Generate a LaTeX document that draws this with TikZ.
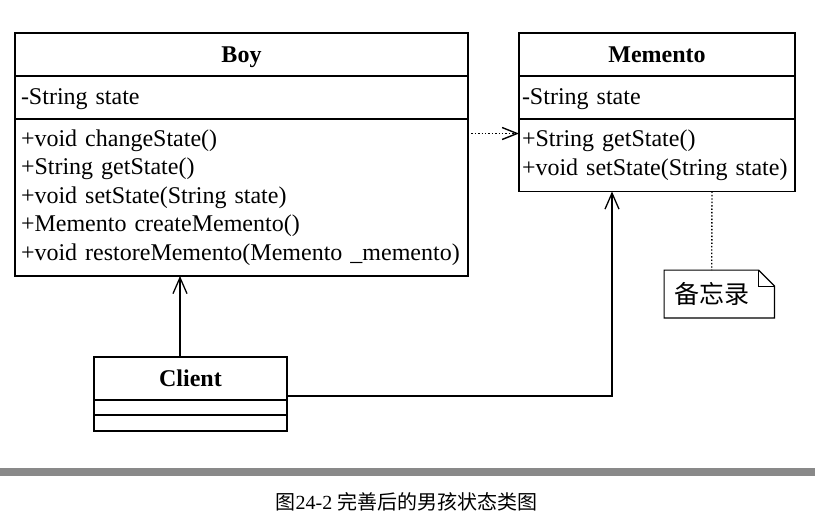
\documentclass[tikz,border=0pt]{standalone}
\usepackage{fontspec}
\setmainfont{Liberation Serif}
\newfontfamily\cjk{Noto Sans CJK SC}
\usetikzlibrary{positioning}
\usetikzlibrary{arrows.meta}
\definecolor{barGray}{HTML}{898989}

\begin{document}
\begin{tikzpicture}[x=1pt,y=-1pt,
    umlpart/.style = {draw, line width=1.8pt, outer sep=0pt, inner xsep=6pt, inner ysep=0pt,
                      font=\fontsize{24}{28.5}\selectfont},
    umlhead/.style = {umlpart, font=\fontsize{24}{28.5}\selectfont\bfseries, align=center,
                      text height=16pt, text depth=0pt},
    umlbody/.style = {umlpart, align=left},
    umlattr/.style = {umlbody, text height=16pt, text depth=2pt},
    notebox/.style = {minimum width=110pt, minimum height=47.4pt, text width=90pt,
                      inner xsep=10pt, align=left, font=\fontsize{25}{25}\selectfont\cjk},
    assoc/.style   = {line width=1.3pt, -{Straight Barb[length=16pt,width=14pt]}},
    depend/.style  = {line width=1.4pt, dotted, -{Straight Barb[length=15pt,width=12pt]}}]

      \useasboundingbox (0,0) rectangle (815,525);

      % Boy
      \node[umlhead, minimum width=453pt, minimum height=43pt, anchor=north west] (boyname) at (15,33) {Boy};
      \node[umlattr, text width=441pt, minimum height=43pt, below=0pt of boyname] (boyattr) {-String state};
      \node[umlbody, text width=441pt, minimum height=157pt, below=0pt of boyattr] (boymeth) {
        +void changeState()\\
        +String getState()\\
        +void setState(String state)\\
        +Memento createMemento()\\
        +void restoreMemento(Memento \_memento)};

      % Memento
      \node[umlhead, minimum width=276pt, minimum height=43pt, anchor=north west] (memname) at (519,33) {Memento};
      \node[umlattr, text width=270pt, inner xsep=3pt, minimum height=43pt, below=0pt of memname] (memattr) {-String state};
      \node[umlbody, text width=270pt, inner xsep=3pt, minimum height=72.5pt, below=0pt of memattr] (memmeth) {
        +String getState()\\
        +void setState(String state)};

      % Client
      \node[umlhead, minimum width=193pt, minimum height=43pt, anchor=north west] (clientname) at (94,357) {Client};
      \node[umlbody, text width=181pt, minimum height=15pt, below=0pt of clientname] (clientattr) {};
      \node[umlbody, text width=181pt, minimum height=16pt, below=0pt of clientattr] (clientmeth) {};

      % note
      \node[notebox] (memo) at (719.3,294) {备忘录};
      \draw[line width=1.2pt] (memo.north west) -- ([xshift=-16pt]memo.north east)
        -- ([yshift=-16pt]memo.north east) -- (memo.south east) -- (memo.south west) -- cycle;
      \draw[line width=1.2pt] ([xshift=-16pt]memo.north east) |- ([yshift=-16pt]memo.north east);

      \draw[depend] ([yshift=-14.5pt]boymeth.north east) -- ([yshift=-14.5pt]memmeth.north west);
      \draw[assoc] ([xshift=86pt]clientname.north west) -- ([xshift=-61.5pt]boymeth.south);
      \draw[assoc] ([yshift=4pt]clientname.south east) -| ([xshift=93pt]memmeth.south west);
      \draw[line width=1.4pt, dotted] ([xshift=193pt]memmeth.south west) -- ([xshift=-7.6pt]memo.north);

      % caption
      \fill[barGray] (0,468.3) rectangle (815,475.7);
      \node[font=\fontsize{20}{20}\selectfont] (caption) at (406.5,501.7) {{\cjk 图}24-2 {\cjk 完善后的男孩状态类图}};
\end{tikzpicture}
\end{document}
